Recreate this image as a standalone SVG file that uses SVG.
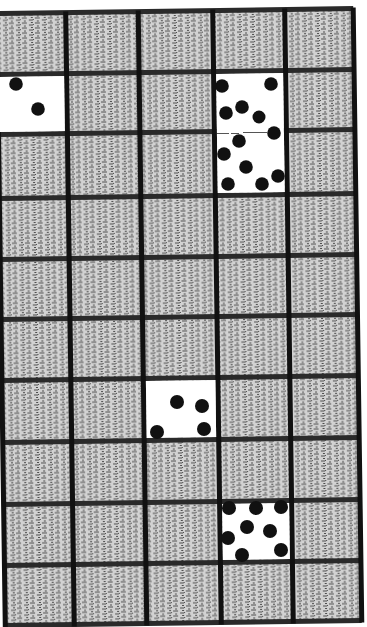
<svg xmlns="http://www.w3.org/2000/svg" width="367" height="627" viewBox="0 0 367 627">
  <defs>
    <pattern id="stip" width="13" height="5" patternUnits="userSpaceOnUse">
      <rect width="13" height="5" fill="#d2d2d2"/>
      <path d="M0 1h5M7 3h4M2 4h2M9 0.5h2M11 2.5h1" stroke="#4c4c4c" stroke-width="1"/>
    </pattern>
  </defs>
  <style>
    .vl { stroke: #111; stroke-width: 5; fill: none; }
    .hl { stroke: #2a2a2a; stroke-width: 5; fill: none; }
    .white { fill: #fff; }
    .dot { fill: #111; }
  </style>
  <rect width="367" height="627" fill="#fff"/>
  <g id="board" transform="rotate(-0.8 180 318)">
    <rect id="gray-cells" x="1" y="11" width="356.5" height="612" fill="url(#stip)"/>
    <g id="grid-lines">
      <path class="hl" d="M1 72H357.5M1 132H357.5M1 196H357.5M1 257H357.5M1 317H357.5M1 378H357.5M1 440H357.5M1 502H357.5M1 563H357.5"/>
      <path class="hl" d="M1 11H357.5" stroke-width="3.5"/>
      <path class="hl" d="M1 623H357.5" stroke-width="4"/>
      <path class="vl" d="M1 10V625M70 10V625M142.5 10V625M217 10V625M289 10V625M357.5 10V625"/>
    </g>
    <g id="cell-r2c1"><rect class="white" x="-6" y="74.5" width="73.5" height="55"/></g>
    <g id="cell-r2c4"><rect class="white" x="219.5" y="74.5" width="67" height="119"/></g>
    <g id="cell-r7c3"><rect class="white" x="145" y="380.5" width="69.5" height="57"/></g>
    <g id="cell-r9c4"><rect class="white" x="219.5" y="504.5" width="67" height="56"/></g>
  </g>
  <g id="dots-r2c1">
    <circle class="dot" cx="16" cy="84" r="6.8"/>
    <circle class="dot" cx="38" cy="109" r="6.8"/>
  </g>
  <g id="dots-r2c4">
    <path d="M217 133.5h12M231 133.5h8M243 132.5h24" stroke="#555" stroke-width="1" fill="none"/>
    <circle class="dot" cx="222" cy="86" r="6.8"/>
    <circle class="dot" cx="271" cy="84" r="6.8"/>
    <circle class="dot" cx="226" cy="113" r="6.8"/>
    <circle class="dot" cx="242" cy="107" r="6.8"/>
    <circle class="dot" cx="259" cy="117" r="6.5"/>
    <circle class="dot" cx="274" cy="133" r="6.8"/>
    <circle class="dot" cx="239" cy="141" r="6.8"/>
    <circle class="dot" cx="224" cy="154" r="6.8"/>
    <circle class="dot" cx="246" cy="167" r="6.8"/>
    <circle class="dot" cx="278" cy="176" r="6.8"/>
    <circle class="dot" cx="228" cy="184" r="6.8"/>
    <circle class="dot" cx="262" cy="184" r="6.8"/>
  </g>
  <g id="dots-r7c3">
    <circle class="dot" cx="177" cy="402" r="7"/>
    <circle class="dot" cx="202" cy="406" r="7"/>
    <circle class="dot" cx="157" cy="432" r="7"/>
    <circle class="dot" cx="204" cy="429" r="7"/>
  </g>
  <g id="dots-r9c4">
    <circle class="dot" cx="229" cy="508" r="7"/>
    <circle class="dot" cx="256" cy="508" r="7"/>
    <circle class="dot" cx="281" cy="507" r="7"/>
    <circle class="dot" cx="247" cy="527" r="7"/>
    <circle class="dot" cx="270" cy="531" r="7"/>
    <circle class="dot" cx="228" cy="538" r="7"/>
    <circle class="dot" cx="281" cy="550" r="7"/>
    <circle class="dot" cx="242" cy="555" r="7"/>
  </g>
</svg>
